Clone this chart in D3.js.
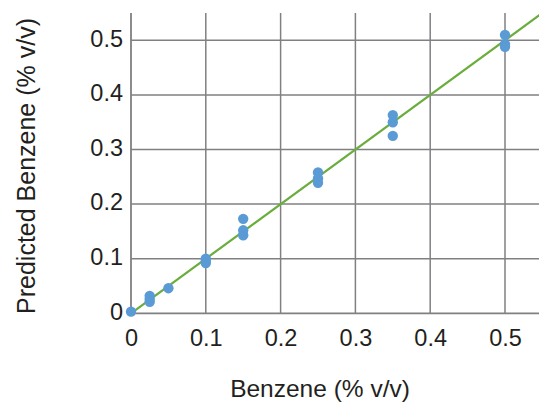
<!DOCTYPE html>
<html><head><meta charset="utf-8">
<script src="https://cdn.jsdelivr.net/npm/d3@7"></script>
<style>body{margin:0;background:#fff;} text{font-family:"Liberation Sans",Arial,Helvetica,sans-serif;fill:#231f20;}</style>
</head><body>
<svg id="c" width="539" height="403"></svg>
<script>
const xTicks = [0, 0.1, 0.2, 0.3, 0.4, 0.5];
const yTicks = [0, 0.1, 0.2, 0.3, 0.4, 0.5];
const actual = [0, 0.025, 0.025, 0.025, 0.05, 0.1, 0.1, 0.1, 0.15, 0.15, 0.15, 0.25, 0.25, 0.25, 0.35, 0.35, 0.35, 0.5, 0.5, 0.5];
const predicted = [0.003, 0.032, 0.026, 0.021, 0.046, 0.100, 0.096, 0.092, 0.173, 0.152, 0.143, 0.258, 0.247, 0.239, 0.363, 0.350, 0.325, 0.510, 0.493, 0.488];
const fitLine = [0, 0.55];
const xTitle = "Benzene (% v/v)";
const yTitle = "Predicted Benzene (% v/v)";

const svg = d3.select("#c");
const m = {left:131, top:13};
const W = 411.4, H = 300.3;
const x = d3.scaleLinear().domain([0, 0.55]).range([m.left, m.left + W]);
const y = d3.scaleLinear().domain([0, 0.55]).range([m.top + H, m.top]);
const grid = "#808083";

// vertical grid
svg.append("g").selectAll("line").data(xTicks).join("line")
  .attr("x1", d => x(d)).attr("x2", d => x(d))
  .attr("y1", y(0)).attr("y2", y(0.55))
  .attr("stroke", grid).attr("stroke-width", d => d === 0 ? 1.8 : 1.5);
// horizontal grid
svg.append("g").selectAll("line").data(yTicks).join("line")
  .attr("x1", x(0)).attr("x2", x(0.55))
  .attr("y1", d => y(d)).attr("y2", d => y(d))
  .attr("stroke", grid).attr("stroke-width", d => d === 0 ? 1.8 : 1.5);

const fmt = d => d === 0 ? "0" : d3.format(".1f")(d);
const xa = svg.append("g").attr("transform", `translate(0,${y(0)})`)
  .call(d3.axisBottom(x).tickValues(xTicks).tickFormat(fmt).tickSize(0).tickPadding(16));
const ya = svg.append("g").attr("transform", `translate(${x(0)},0)`)
  .call(d3.axisLeft(y).tickValues(yTicks).tickFormat(fmt).tickSize(0).tickPadding(8));
[xa, ya].forEach(a => {
  a.select(".domain").remove();
  a.selectAll("text").style("font-size", "23.5px").style("fill", "#231f20")
   .style("font-family", '"Liberation Sans",Arial,sans-serif');
});
ya.selectAll("text").attr("dy", "0.25em");

// fit line
svg.append("line")
  .attr("x1", x(fitLine[0])).attr("y1", y(fitLine[0]))
  .attr("x2", x(fitLine[1])).attr("y2", y(fitLine[1]))
  .attr("stroke", "#6aad3d").attr("stroke-width", 2.2);

// points
svg.append("g").selectAll("circle").data(actual.map((a, i) => [a, predicted[i]])).join("circle")
  .attr("cx", d => x(d[0])).attr("cy", d => y(d[1])).attr("r", 5.2)
  .attr("fill", "#5b9bd5");

// titles
svg.append("text").attr("x", 320).attr("y", 397).attr("text-anchor", "middle")
  .style("font-size", "24.5px").text(xTitle);
svg.append("text").attr("transform", `translate(35,${166}) rotate(-90)`).attr("text-anchor", "middle")
  .style("font-size", "25px").text(yTitle);
</script>
</body></html>
